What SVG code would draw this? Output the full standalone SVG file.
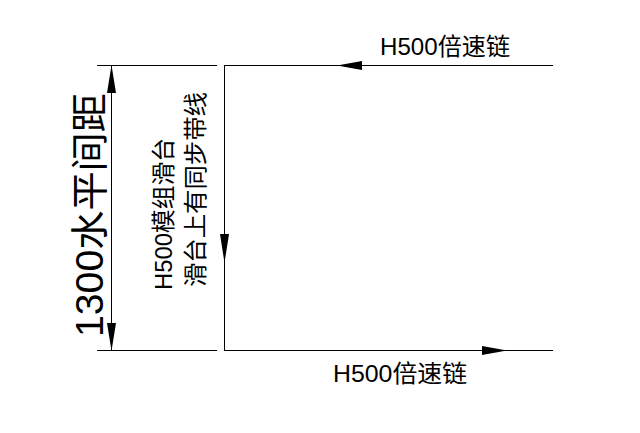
<svg xmlns="http://www.w3.org/2000/svg" width="640" height="433" viewBox="0 0 640 433">
  <style>
    .ln { stroke: #000; stroke-width: 1; fill: none; }
    .ah { fill: #000; stroke: none; }
    .t { font-family: "Liberation Sans", "Noto Sans CJK SC", sans-serif; fill: #000; }
  </style>
  <rect width="640" height="433" fill="#fff"/>
  <g id="connectors">
    <line class="ln" x1="97" y1="65.5" x2="217" y2="65.5"/>
    <line class="ln" x1="97" y1="350.5" x2="217" y2="350.5"/>
    <line class="ln" x1="224.5" y1="65.5" x2="553" y2="65.5"/>
    <line class="ln" x1="224.5" y1="350.5" x2="553" y2="350.5"/>
    <line class="ln" x1="224.5" y1="65" x2="224.5" y2="351"/>
    <line class="ln" x1="111.5" y1="65" x2="111.5" y2="351"/>
    <polygon class="ah" points="337,65.5 362,61 362,70"/>
    <polygon class="ah" points="507,350.5 482,346 482,355"/>
    <polygon class="ah" points="224.5,263 220,234 229,234"/>
    <polygon class="ah" points="111.5,65 107,93 116,93"/>
    <polygon class="ah" points="111.5,351 107,323 116,323"/>
  </g>
  <g id="dim-label">
    <text class="t" font-size="38" transform="translate(103,337) rotate(-90)" textLength="244" lengthAdjust="spacingAndGlyphs">1300水平间距</text>
  </g>
  <g id="slide-label">
    <text class="t" font-size="24" transform="translate(172,290) rotate(-90)" textLength="152" lengthAdjust="spacingAndGlyphs">H500模组滑台</text>
    <text class="t" font-size="24" transform="translate(204,287) rotate(-90)" textLength="195" lengthAdjust="spacingAndGlyphs">滑台上有同步带线</text>
  </g>
  <g id="top-chain">
    <text class="t" font-size="24" x="380" y="55" textLength="130" lengthAdjust="spacingAndGlyphs">H500倍速链</text>
  </g>
  <g id="bottom-chain">
    <text class="t" font-size="24" x="333" y="382" textLength="134" lengthAdjust="spacingAndGlyphs">H500倍速链</text>
  </g>
</svg>
